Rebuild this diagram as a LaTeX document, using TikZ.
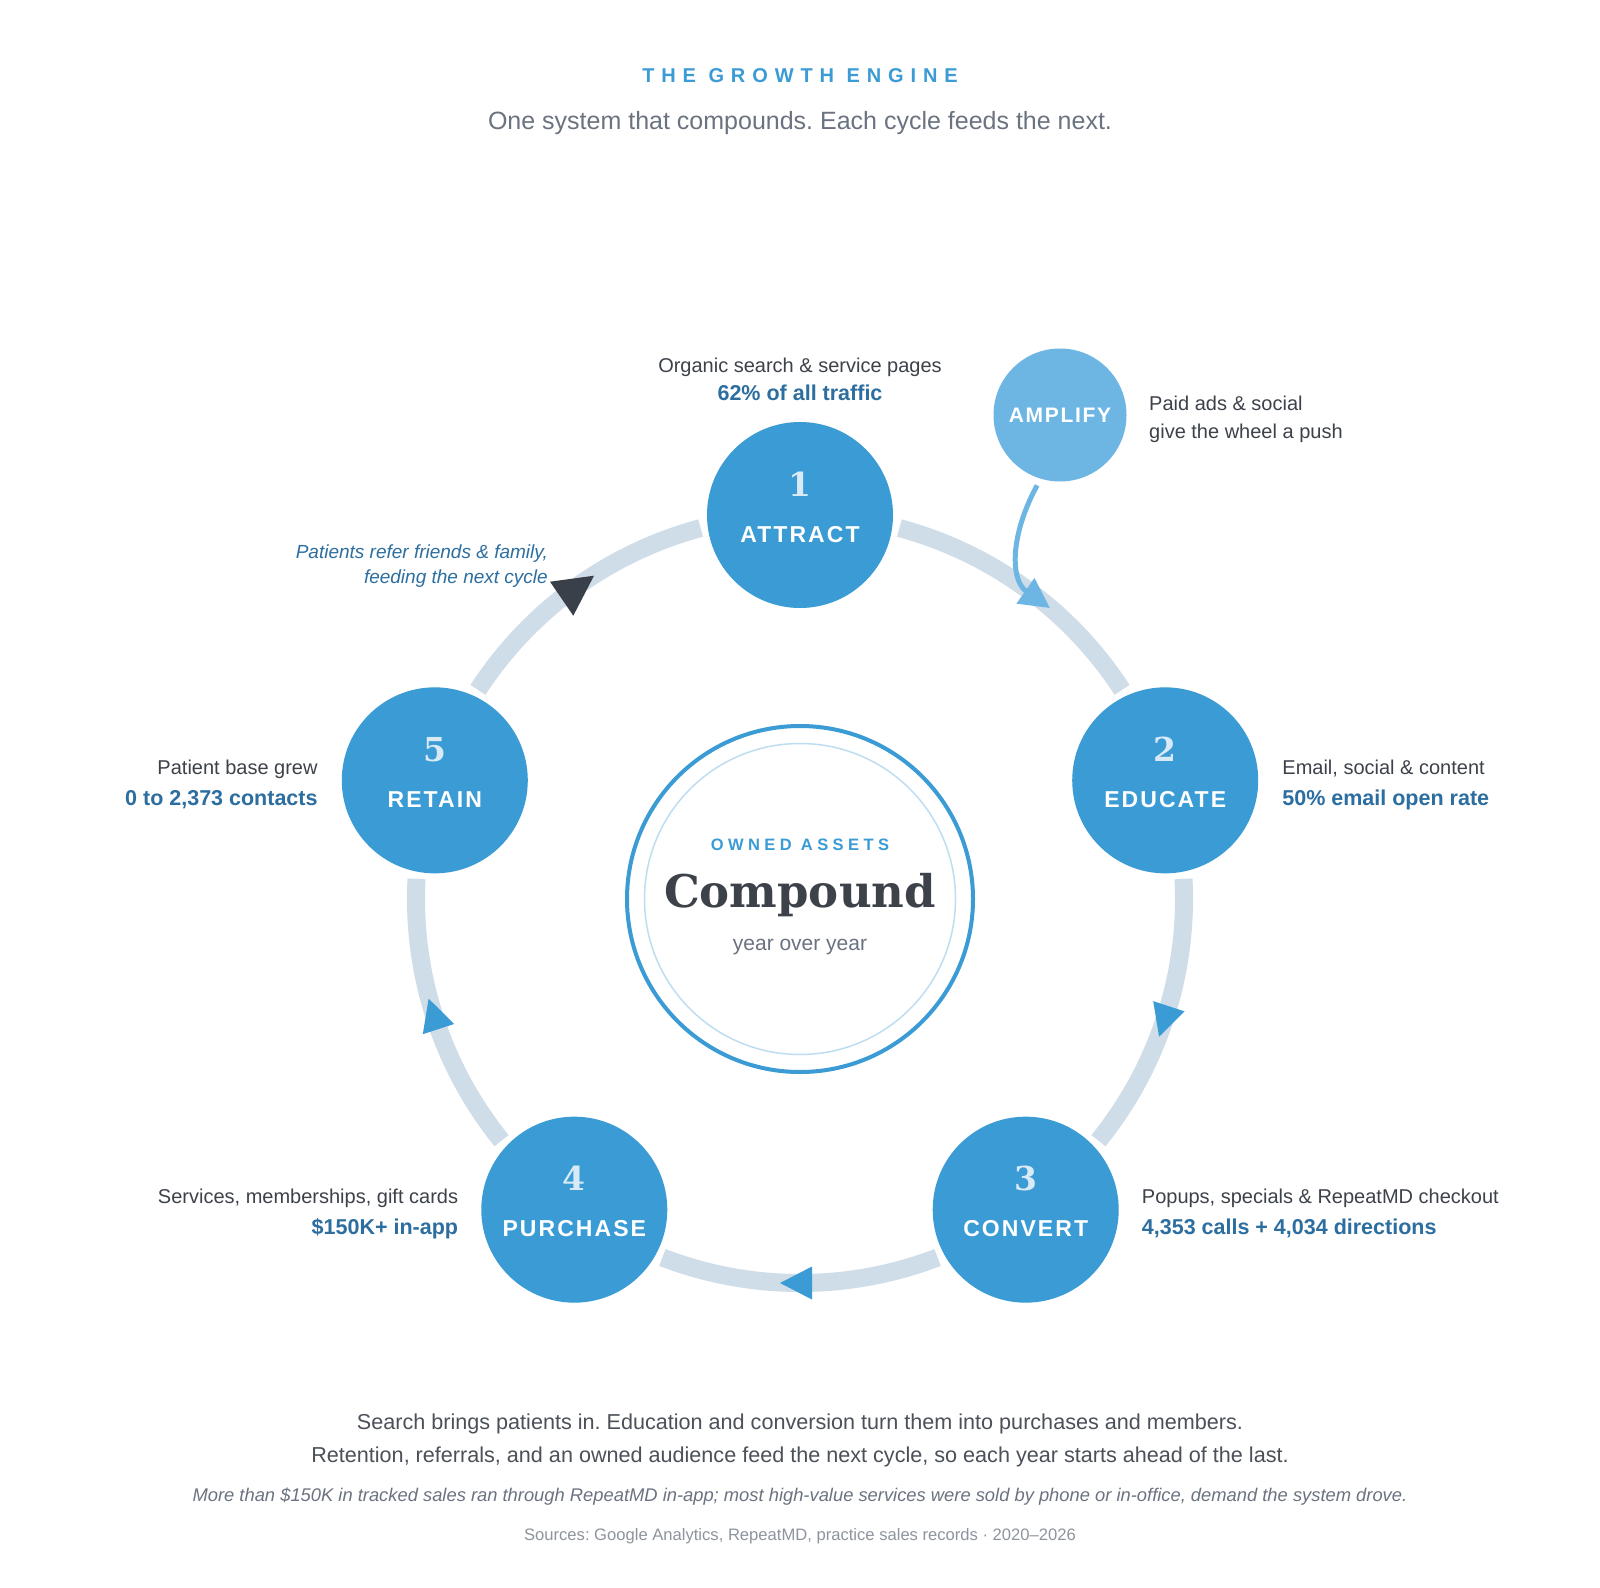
\documentclass[tikz,border=0pt]{standalone}
\usepackage{fontspec}
\setmainfont{Liberation Sans}
\newfontfamily\dvserif{DejaVu Serif}
\newfontfamily\trackA{Liberation Sans}[LetterSpace=34.5]
\newfontfamily\trackB{Liberation Sans}[LetterSpace=27]
\newfontfamily\trackC{Liberation Sans}[LetterSpace=9]
\newfontfamily\trackD{Liberation Sans}[LetterSpace=8]
\usetikzlibrary{calc,arrows.meta}
\definecolor{mainblue}{HTML}{3A9BD5}
\definecolor{ringcol}{HTML}{CFDDE9}
\definecolor{ampblue}{HTML}{6DB6E3}
\definecolor{darktext}{HTML}{3D424A}
\definecolor{boldblue}{HTML}{2C6E9F}
\definecolor{subgray}{HTML}{6B7280}
\definecolor{numlight}{HTML}{D9EAF7}
\definecolor{darkarrow}{HTML}{3A404A}
\definecolor{innerline}{HTML}{BFDDF0}
\definecolor{bodygray}{HTML}{4B5059}
\definecolor{srcgray}{HTML}{8E949D}
\newcommand\myfs[1]{\fontsize{#1}{#1}\selectfont}
\frenchspacing
\begin{document}
\begin{tikzpicture}[x=1pt,y=1pt,
  stage/.style={circle, fill=mainblue, minimum size=186pt, inner sep=0pt},
  ringseg/.style={draw=ringcol, line width=18pt},
  numtxt/.style={text=numlight, font=\dvserif\bfseries\myfs{33}, anchor=base, inner sep=0pt},
  stagetxt/.style={text=white, font=\trackC\bfseries\myfs{23}, anchor=base, inner sep=0pt},
  lbl/.style={text=darktext, font=\myfs{20}, inner sep=0pt},
  lblb/.style={text=boldblue, font=\bfseries\myfs{21.5}, inner sep=0pt},
  ringarrow/.style={fill=mainblue}
]
\useasboundingbox (0,0) rectangle (1600,-1587);
\fill[white] (0,0) rectangle (1600,-1587);

% title
\node[anchor=base, inner sep=0pt, text=mainblue, font=\trackA\bfseries\myfs{20}] (title) at (800,-82.7) {THE GROWTH ENGINE};
\node[anchor=base, inner sep=0pt, text=subgray, font=\myfs{25}] (subtitle) at (800,-129) {One system that compounds. Each cycle feeds the next.};

\coordinate (c) at (800,-899);

% ring segments
\foreach \a/\b in {75/33, 3/-39, -69/-111, -141/-183, 147/105}
  \draw[ringseg] ($(c)+(\a:384)$) arc[start angle=\a, end angle=\b, radius=384];

% ring arrowheads
\foreach \t in {-18,-90,-162}{
  \begin{scope}[shift={(c)}, rotate=\t]
    \fill[ringarrow] (384,-20) -- (400.5,12) -- (367.5,12) -- cycle;
  \end{scope}
}
% dark referral arrowhead
\fill[darkarrow] (550,-581.7) -- (594,-575.7) -- (573.3,-615.7) -- cycle;

% stage nodes
\node[stage] (n1) at ($(c)+(90:384)$) {};
\node[stage] (n2) at ($(c)+(18:384)$) {};
\node[stage] (n3) at ($(c)+(-54:384)$) {};
\node[stage] (n4) at ($(c)+(-126:384)$) {};
\node[stage] (n5) at ($(c)+(162:384)$) {};

\foreach \n/\k/\w in {n1/1/ATTRACT, n2/2/EDUCATE, n3/3/CONVERT, n4/4/PURCHASE, n5/5/RETAIN}{
  \node[numtxt] (\n num) at ($(\n)+(0,19)$) {\k};
  \node[stagetxt] (\n txt) at ($(\n)+(0,-27)$) {\w};
}

% amplify
\node[circle, fill=ampblue, minimum size=133pt, inner sep=0pt, text=white, font=\trackD\bfseries\myfs{21}] (amp) at (1060,-415) {AMPLIFY};
\coordinate (ampout) at ($(amp.center)+(-108:74)$);
\coordinate (ampin) at (1050,-608);
\draw[ampblue, line width=5pt, -{Triangle[length=30pt,width=30pt]}] (ampout) .. controls (1010,-535) and (1010,-580) .. (ampin);
\node[lbl, anchor=base west] (ampa) at (1149,-410) {Paid ads \& social};
\node[lbl, anchor=base west] (ampb) at (1149,-438) {give the wheel a push};

% stage labels
\node[lbl, anchor=base] (l1a) at (800,-372) {Organic search \& service pages};
\node[lblb, anchor=base] (l1b) at (800,-400.5) {62\% of all traffic};

\node[lbl, anchor=base west] (l2a) at ($(n2)+(117,6.3)$) {Email, social \& content};
\node[lblb, anchor=base west] (l2b) at ($(n2)+(117,-25.3)$) {50\% email open rate};

\node[lbl, anchor=base west] (l3a) at ($(n3)+(116,6.5)$) {Popups, specials \& RepeatMD checkout};
\node[lblb, anchor=base west] (l3b) at ($(n3)+(116,-24.5)$) {4,353 calls + 4,034 directions};

\node[lbl, anchor=base east] (l4a) at ($(n4)+(-116,6.5)$) {Services, memberships, gift cards};
\node[lblb, anchor=base east] (l4b) at ($(n4)+(-116,-24.5)$) {\$150K+ in-app};

\node[lbl, anchor=base east] (l5a) at ($(n5)+(-117,6.3)$) {Patient base grew};
\node[lblb, anchor=base east] (l5b) at ($(n5)+(-117,-25.3)$) {0 to 2,373 contacts};

% referral note
\node[inner sep=0pt, anchor=base east, text=boldblue, font=\itshape\myfs{19}] (refa) at (548,-558.5) {Patients refer friends \& family,};
\node[inner sep=0pt, anchor=base east, text=boldblue, font=\itshape\myfs{19}] (refb) at (548,-583) {feeding the next cycle};

% center
\node[circle, draw=mainblue, line width=4pt, minimum size=346pt, inner sep=0pt] (core) at (c) {};
\draw[innerline, line width=1.5pt] (c) circle[radius=155.5];
\node[anchor=base, inner sep=0pt, text=mainblue, font=\trackB\bfseries\myfs{16.5}] (owned) at (800,-850) {OWNED ASSETS};
\node[anchor=base, inner sep=0pt, text=darktext, font=\dvserif\bfseries\myfs{45}] (comp) at (800,-907) {Compound};
\node[anchor=base, inner sep=0pt, text=subgray, font=\myfs{21}] (yoy) at (800,-950) {year over year};

% bottom text
\node[anchor=base, inner sep=0pt, text=bodygray, font=\myfs{21.6}] (b1) at (800,-1429) {Search brings patients in. Education and conversion turn them into purchases and members.};
\node[anchor=base, inner sep=0pt, text=bodygray, font=\myfs{21.6}] (b2) at (800,-1462.5) {Retention, referrals, and an owned audience feed the next cycle, so each year starts ahead of the last.};
\node[anchor=base, inner sep=0pt, text=subgray, font=\itshape\myfs{18.35}] (b3) at (800,-1501.5) {More than \$150K in tracked sales ran through RepeatMD in-app; most high-value services were sold by phone or in-office, demand the system drove.};
\node[anchor=base, inner sep=0pt, text=srcgray, font=\myfs{16.6}] (b4) at (800,-1540) {Sources: Google Analytics, RepeatMD, practice sales records · 2020–2026};
\end{tikzpicture}
\end{document}
